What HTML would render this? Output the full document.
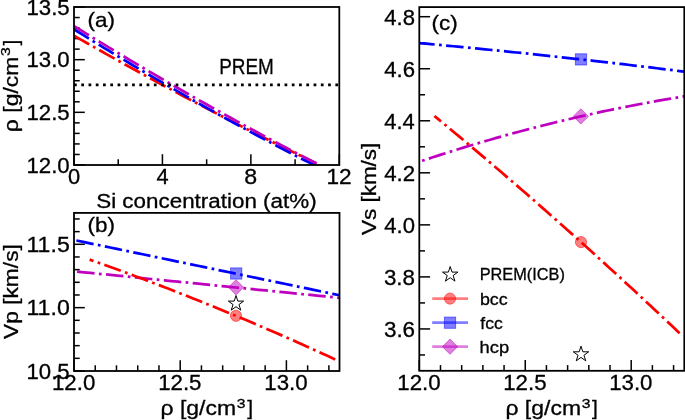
<!DOCTYPE html>
<html><head><meta charset="utf-8"><style>html,body{margin:0;padding:0;background:#fff;overflow:hidden}svg{display:block;will-change:transform}text{stroke:#000;stroke-width:0.3px;paint-order:stroke}</style></head>
<body><svg width="685" height="420" viewBox="0 0 685 420" font-family="Liberation Sans, sans-serif">
<rect width="685" height="420" fill="#fff"/>
<defs>
<clipPath id="ca"><rect x="74" y="7" width="265.3" height="158"/></clipPath>
<clipPath id="cb"><rect x="74" y="212.9" width="265.5" height="158.1"/></clipPath>
<clipPath id="cc"><rect x="419.3" y="7.1" width="264.99999999999994" height="363.7"/></clipPath>
</defs>
<g stroke="#000" stroke-width="1.5"><line x1="74" y1="165" x2="74" y2="154.2"/><line x1="162.43" y1="165" x2="162.43" y2="154.2"/><line x1="250.87" y1="165" x2="250.87" y2="154.2"/><line x1="339.3" y1="165" x2="339.3" y2="154.2"/><line x1="118.22" y1="165" x2="118.22" y2="159.3"/><line x1="206.65" y1="165" x2="206.65" y2="159.3"/><line x1="295.08" y1="165" x2="295.08" y2="159.3"/><line x1="74" y1="165" x2="84.8" y2="165"/><line x1="74" y1="112.33" x2="84.8" y2="112.33"/><line x1="74" y1="59.67" x2="84.8" y2="59.67"/><line x1="74" y1="7" x2="84.8" y2="7"/><line x1="74" y1="154.47" x2="79.7" y2="154.47"/><line x1="74" y1="143.93" x2="79.7" y2="143.93"/><line x1="74" y1="133.4" x2="79.7" y2="133.4"/><line x1="74" y1="122.87" x2="79.7" y2="122.87"/><line x1="74" y1="101.8" x2="79.7" y2="101.8"/><line x1="74" y1="91.27" x2="79.7" y2="91.27"/><line x1="74" y1="80.73" x2="79.7" y2="80.73"/><line x1="74" y1="70.2" x2="79.7" y2="70.2"/><line x1="74" y1="49.13" x2="79.7" y2="49.13"/><line x1="74" y1="38.6" x2="79.7" y2="38.6"/><line x1="74" y1="28.07" x2="79.7" y2="28.07"/><line x1="74" y1="17.53" x2="79.7" y2="17.53"/><line x1="74" y1="371" x2="74" y2="360.2"/><line x1="180.2" y1="371" x2="180.2" y2="360.2"/><line x1="286.4" y1="371" x2="286.4" y2="360.2"/><line x1="95.24" y1="371" x2="95.24" y2="365.3"/><line x1="116.48" y1="371" x2="116.48" y2="365.3"/><line x1="137.72" y1="371" x2="137.72" y2="365.3"/><line x1="158.96" y1="371" x2="158.96" y2="365.3"/><line x1="201.44" y1="371" x2="201.44" y2="365.3"/><line x1="222.68" y1="371" x2="222.68" y2="365.3"/><line x1="243.92" y1="371" x2="243.92" y2="365.3"/><line x1="265.16" y1="371" x2="265.16" y2="365.3"/><line x1="307.64" y1="371" x2="307.64" y2="365.3"/><line x1="328.88" y1="371" x2="328.88" y2="365.3"/><line x1="74" y1="371" x2="84.8" y2="371"/><line x1="74" y1="307.65" x2="84.8" y2="307.65"/><line x1="74" y1="244.3" x2="84.8" y2="244.3"/><line x1="74" y1="358.33" x2="79.7" y2="358.33"/><line x1="74" y1="345.66" x2="79.7" y2="345.66"/><line x1="74" y1="332.99" x2="79.7" y2="332.99"/><line x1="74" y1="320.32" x2="79.7" y2="320.32"/><line x1="74" y1="294.98" x2="79.7" y2="294.98"/><line x1="74" y1="282.31" x2="79.7" y2="282.31"/><line x1="74" y1="269.64" x2="79.7" y2="269.64"/><line x1="74" y1="256.97" x2="79.7" y2="256.97"/><line x1="74" y1="231.63" x2="79.7" y2="231.63"/><line x1="74" y1="218.96" x2="79.7" y2="218.96"/><line x1="419.3" y1="370.8" x2="419.3" y2="360"/><line x1="525.25" y1="370.8" x2="525.25" y2="360"/><line x1="631.2" y1="370.8" x2="631.2" y2="360"/><line x1="440.49" y1="370.8" x2="440.49" y2="365.1"/><line x1="461.68" y1="370.8" x2="461.68" y2="365.1"/><line x1="482.87" y1="370.8" x2="482.87" y2="365.1"/><line x1="504.06" y1="370.8" x2="504.06" y2="365.1"/><line x1="546.44" y1="370.8" x2="546.44" y2="365.1"/><line x1="567.63" y1="370.8" x2="567.63" y2="365.1"/><line x1="588.82" y1="370.8" x2="588.82" y2="365.1"/><line x1="610.01" y1="370.8" x2="610.01" y2="365.1"/><line x1="652.39" y1="370.8" x2="652.39" y2="365.1"/><line x1="673.58" y1="370.8" x2="673.58" y2="365.1"/><line x1="419.3" y1="328.94" x2="430.1" y2="328.94"/><line x1="419.3" y1="276.9" x2="430.1" y2="276.9"/><line x1="419.3" y1="224.86" x2="430.1" y2="224.86"/><line x1="419.3" y1="172.82" x2="430.1" y2="172.82"/><line x1="419.3" y1="120.78" x2="430.1" y2="120.78"/><line x1="419.3" y1="68.74" x2="430.1" y2="68.74"/><line x1="419.3" y1="16.7" x2="430.1" y2="16.7"/><line x1="419.3" y1="354.96" x2="425" y2="354.96"/><line x1="419.3" y1="302.92" x2="425" y2="302.92"/><line x1="419.3" y1="250.88" x2="425" y2="250.88"/><line x1="419.3" y1="198.84" x2="425" y2="198.84"/><line x1="419.3" y1="146.8" x2="425" y2="146.8"/><line x1="419.3" y1="94.76" x2="425" y2="94.76"/><line x1="419.3" y1="42.72" x2="425" y2="42.72"/></g>
<path d="M74,35.71 L78.11,38.07 L82.22,40.41 L86.33,42.75 L90.44,45.08 L94.55,47.4 L98.66,49.72 L102.77,52.03 L106.88,54.34 L110.99,56.64 L115.1,58.93 L119.21,61.22 L123.32,63.5 L127.43,65.77 L131.54,68.04 L135.65,70.3 L139.76,72.56 L143.87,74.8 L147.98,77.05 L152.09,79.28 L156.2,81.51 L160.31,83.73 L164.42,85.95 L168.53,88.16 L172.64,90.36 L176.75,92.56 L180.86,94.75 L184.97,96.94 L189.08,99.11 L193.19,101.29 L197.31,103.45 L201.42,105.61 L205.53,107.76 L209.64,109.91 L213.75,112.05 L217.86,114.18 L221.97,116.31 L226.08,118.43 L230.19,120.55 L234.3,122.65 L238.41,124.76 L242.52,126.85 L246.63,128.94 L250.74,131.02 L254.85,133.1 L258.96,135.17 L263.07,137.23 L267.18,139.29 L271.29,141.34 L275.4,143.38 L279.51,145.42 L283.62,147.45 L287.73,149.48 L291.84,151.5 L295.95,153.51 L300.06,155.52 L304.17,157.52 L308.28,159.51 L312.39,161.5 L316.5,163.48" fill="none" stroke="#ff0000" stroke-width="2.74" stroke-dasharray="17.54 4.38 2.74 4.38" stroke-dashoffset="0" clip-path="url(#ca)"/>
<path d="M74,29.31 L78.34,32.01 L82.68,34.71 L87.02,37.39 L91.36,40.07 L95.69,42.74 L100.03,45.4 L104.37,48.05 L108.71,50.69 L113.05,53.32 L117.39,55.94 L121.73,58.55 L126.07,61.15 L130.41,63.75 L134.75,66.33 L139.08,68.91 L143.42,71.47 L147.76,74.03 L152.1,76.58 L156.44,79.12 L160.78,81.65 L165.12,84.17 L169.46,86.68 L173.8,89.18 L178.14,91.67 L182.47,94.15 L186.81,96.63 L191.15,99.09 L195.49,101.55 L199.83,103.99 L204.17,106.43 L208.51,108.85 L212.85,111.27 L217.19,113.68 L221.53,116.08 L225.86,118.47 L230.2,120.85 L234.54,123.23 L238.88,125.59 L243.22,127.94 L247.56,130.29 L251.9,132.62 L256.24,134.95 L260.58,137.26 L264.92,139.57 L269.25,141.87 L273.59,144.16 L277.93,146.44 L282.27,148.71 L286.61,150.97 L290.95,153.22 L295.29,155.46 L299.63,157.69 L303.97,159.92 L308.31,162.13 L312.64,164.34 L316.98,166.54 L321.32,168.72 L325.66,170.9 L330,173.07" fill="none" stroke="#0000ff" stroke-width="2.74" stroke-dasharray="17.54 4.38 2.74 4.38" stroke-dashoffset="0" clip-path="url(#ca)"/>
<path d="M74,26.05 L78.34,28.74 L82.68,31.42 L87.02,34.09 L91.36,36.75 L95.69,39.4 L100.03,42.05 L104.37,44.69 L108.71,47.32 L113.05,49.94 L117.39,52.55 L121.73,55.16 L126.07,57.75 L130.41,60.34 L134.75,62.92 L139.08,65.49 L143.42,68.05 L147.76,70.61 L152.1,73.16 L156.44,75.69 L160.78,78.22 L165.12,80.74 L169.46,83.26 L173.8,85.76 L178.14,88.26 L182.47,90.75 L186.81,93.23 L191.15,95.7 L195.49,98.16 L199.83,100.62 L204.17,103.06 L208.51,105.5 L212.85,107.93 L217.19,110.35 L221.53,112.77 L225.86,115.17 L230.2,117.57 L234.54,119.96 L238.88,122.34 L243.22,124.71 L247.56,127.07 L251.9,129.43 L256.24,131.78 L260.58,134.12 L264.92,136.45 L269.25,138.77 L273.59,141.08 L277.93,143.39 L282.27,145.68 L286.61,147.97 L290.95,150.25 L295.29,152.53 L299.63,154.79 L303.97,157.04 L308.31,159.29 L312.64,161.53 L316.98,163.76 L321.32,165.98 L325.66,168.2 L330,170.4" fill="none" stroke="#bf00bf" stroke-width="2.74" stroke-dasharray="17.54 4.38 2.74 4.38" stroke-dashoffset="0" clip-path="url(#ca)"/>
<path d="M74,84.8 L339.3,84.8" stroke="#000" stroke-width="2.74" stroke-dasharray="2.74 4.52" clip-path="url(#ca)"/>
<rect x="74" y="7" width="265.3" height="158" fill="none" stroke="#000" stroke-width="1.8" stroke-linejoin="miter"/>
<path d="M76.4,240.5 L83.15,241.9 L89.89,243.31 L96.64,244.71 L103.38,246.11 L110.13,247.52 L116.88,248.92 L123.62,250.32 L130.37,251.73 L137.12,253.13 L143.86,254.53 L150.61,255.94 L157.35,257.34 L164.1,258.74 L170.85,260.14 L177.59,261.55 L184.34,262.95 L191.08,264.35 L197.83,265.76 L204.58,267.16 L211.32,268.56 L218.07,269.97 L224.82,271.37 L231.56,272.77 L238.31,274.18 L245.05,275.58 L251.8,276.98 L258.55,278.39 L265.29,279.79 L272.04,281.19 L278.78,282.6 L285.53,284 L292.28,285.4 L299.02,286.81 L305.77,288.21 L312.52,289.61 L319.26,291.02 L326.01,292.42 L332.75,293.82 L339.5,295.22" fill="none" stroke="#0000ff" stroke-width="2.74" stroke-dasharray="17.54 4.38 2.74 4.38" stroke-dashoffset="0" clip-path="url(#cb)"/>
<path d="M77.1,271.6 L83.83,272.27 L90.56,272.95 L97.28,273.62 L104.01,274.29 L110.74,274.96 L117.47,275.64 L124.2,276.31 L130.93,276.98 L137.65,277.66 L144.38,278.33 L151.11,279 L157.84,279.67 L164.57,280.35 L171.29,281.02 L178.02,281.69 L184.75,282.37 L191.48,283.04 L198.21,283.71 L204.94,284.38 L211.66,285.06 L218.39,285.73 L225.12,286.4 L231.85,287.07 L238.58,287.75 L245.31,288.42 L252.03,289.09 L258.76,289.77 L265.49,290.44 L272.22,291.11 L278.95,291.78 L285.67,292.46 L292.4,293.13 L299.13,293.8 L305.86,294.48 L312.59,295.15 L319.32,295.82 L326.04,296.49 L332.77,297.17 L339.5,297.84" fill="none" stroke="#bf00bf" stroke-width="2.74" stroke-dasharray="17.54 4.38 2.74 4.38" stroke-dashoffset="0" clip-path="url(#cb)"/>
<path d="M89.6,259.59 L93.76,261.06 L97.93,262.54 L102.09,264.03 L106.25,265.52 L110.41,267.02 L114.58,268.53 L118.74,270.05 L122.9,271.57 L127.06,273.11 L131.23,274.65 L135.39,276.19 L139.55,277.75 L143.72,279.31 L147.88,280.88 L152.04,282.46 L156.2,284.04 L160.37,285.64 L164.53,287.24 L168.69,288.84 L172.85,290.46 L177.02,292.08 L181.18,293.71 L185.34,295.35 L189.51,297 L193.67,298.65 L197.83,300.31 L201.99,301.98 L206.16,303.66 L210.32,305.34 L214.48,307.03 L218.64,308.73 L222.81,310.44 L226.97,312.15 L231.13,313.88 L235.29,315.61 L239.46,317.34 L243.62,319.09 L247.78,320.84 L251.95,322.6 L256.11,324.37 L260.27,326.14 L264.43,327.93 L268.6,329.72 L272.76,331.51 L276.92,333.32 L281.08,335.13 L285.25,336.95 L289.41,338.78 L293.57,340.62 L297.74,342.46 L301.9,344.31 L306.06,346.17 L310.22,348.04 L314.39,349.91 L318.55,351.79 L322.71,353.68 L326.87,355.58 L331.04,357.48 L335.2,359.39" fill="none" stroke="#ff0000" stroke-width="2.74" stroke-dasharray="17.54 4.38 2.74 4.38" stroke-dashoffset="13.4" clip-path="url(#cb)"/>
<path d="M417.2,42.91 L421.72,43.32 L426.24,43.73 L430.77,44.14 L435.29,44.56 L439.81,44.97 L444.33,45.39 L448.85,45.82 L453.38,46.24 L457.9,46.67 L462.42,47.1 L466.94,47.54 L471.46,47.97 L475.99,48.41 L480.51,48.86 L485.03,49.3 L489.55,49.75 L494.07,50.2 L498.6,50.65 L503.12,51.11 L507.64,51.57 L512.16,52.03 L516.68,52.5 L521.21,52.96 L525.73,53.43 L530.25,53.91 L534.77,54.38 L539.29,54.86 L543.82,55.34 L548.34,55.82 L552.86,56.31 L557.38,56.8 L561.91,57.29 L566.43,57.79 L570.95,58.28 L575.47,58.78 L579.99,59.29 L584.52,59.79 L589.04,60.3 L593.56,60.81 L598.08,61.33 L602.6,61.84 L607.13,62.36 L611.65,62.89 L616.17,63.41 L620.69,63.94 L625.21,64.47 L629.74,65 L634.26,65.54 L638.78,66.08 L643.3,66.62 L647.82,67.17 L652.35,67.71 L656.87,68.26 L661.39,68.82 L665.91,69.37 L670.43,69.93 L674.96,70.49 L679.48,71.05 L684,71.62" fill="none" stroke="#0000ff" stroke-width="2.74" stroke-dasharray="17.54 4.38 2.74 4.38" stroke-dashoffset="0" clip-path="url(#cc)"/>
<path d="M419.3,161.73 L423.79,160.24 L428.27,158.76 L432.76,157.3 L437.25,155.84 L441.73,154.41 L446.22,152.98 L450.71,151.57 L455.19,150.17 L459.68,148.78 L464.16,147.41 L468.65,146.05 L473.14,144.71 L477.62,143.38 L482.11,142.06 L486.6,140.75 L491.08,139.46 L495.57,138.18 L500.06,136.91 L504.54,135.66 L509.03,134.42 L513.52,133.19 L518,131.98 L522.49,130.78 L526.97,129.6 L531.46,128.42 L535.95,127.26 L540.43,126.12 L544.92,124.98 L549.41,123.86 L553.89,122.76 L558.38,121.66 L562.87,120.58 L567.35,119.52 L571.84,118.46 L576.33,117.42 L580.81,116.4 L585.3,115.38 L589.78,114.38 L594.27,113.4 L598.76,112.42 L603.24,111.46 L607.73,110.52 L612.22,109.58 L616.7,108.66 L621.19,107.75 L625.68,106.86 L630.16,105.98 L634.65,105.11 L639.14,104.26 L643.62,103.42 L648.11,102.59 L652.59,101.77 L657.08,100.97 L661.57,100.19 L666.05,99.41 L670.54,98.65 L675.03,97.9 L679.51,97.17 L684,96.45" fill="none" stroke="#bf00bf" stroke-width="2.74" stroke-dasharray="17.54 4.38 2.74 4.38" stroke-dashoffset="19" clip-path="url(#cc)"/>
<path d="M434.4,115.99 L438.56,119.41 L442.71,122.84 L446.87,126.28 L451.02,129.73 L455.18,133.19 L459.34,136.65 L463.49,140.13 L467.65,143.61 L471.8,147.11 L475.96,150.61 L480.12,154.12 L484.27,157.64 L488.43,161.17 L492.58,164.71 L496.74,168.26 L500.89,171.81 L505.05,175.38 L509.21,178.95 L513.36,182.53 L517.52,186.12 L521.67,189.73 L525.83,193.34 L529.99,196.95 L534.14,200.58 L538.3,204.22 L542.45,207.86 L546.61,211.52 L550.77,215.18 L554.92,218.85 L559.08,222.53 L563.23,226.22 L567.39,229.92 L571.55,233.63 L575.7,237.35 L579.86,241.07 L584.01,244.81 L588.17,248.55 L592.33,252.31 L596.48,256.07 L600.64,259.84 L604.79,263.62 L608.95,267.41 L613.11,271.2 L617.26,275.01 L621.42,278.83 L625.57,282.65 L629.73,286.48 L633.88,290.33 L638.04,294.18 L642.2,298.04 L646.35,301.91 L650.51,305.78 L654.66,309.67 L658.82,313.57 L662.98,317.47 L667.13,321.39 L671.29,325.31 L675.44,329.24 L679.6,333.18" fill="none" stroke="#ff0000" stroke-width="2.74" stroke-dasharray="17.54 4.38 2.74 4.38" stroke-dashoffset="8.9" clip-path="url(#cc)"/>
<rect x="230.6" y="267.9" width="11.2" height="11.2" fill="rgba(0,0,255,0.5)" stroke="rgba(0,0,255,0.5)" stroke-width="1"/>
<path d="M236,279.7 L243.6,287.3 L236,294.9 L228.4,287.3 Z" fill="rgba(191,0,191,0.5)" stroke="rgba(191,0,191,0.5)" stroke-width="1"/>
<path d="M236,295.5 L237.82,301.1 L243.7,301.1 L238.94,304.56 L240.76,310.15 L236,306.69 L231.24,310.15 L233.06,304.56 L228.3,301.1 L234.18,301.1 Z" fill="#fff" stroke="#000" stroke-width="1.0" stroke-linejoin="miter"/>
<circle cx="236" cy="315.8" r="5.6" fill="rgba(255,0,0,0.5)" stroke="rgba(255,0,0,0.5)" stroke-width="1"/>
<rect x="575.4" y="53.8" width="11.2" height="11.2" fill="rgba(0,0,255,0.5)" stroke="rgba(0,0,255,0.5)" stroke-width="1"/>
<path d="M580.8,108.8 L588.4,116.4 L580.8,124 L573.2,116.4 Z" fill="rgba(191,0,191,0.5)" stroke="rgba(191,0,191,0.5)" stroke-width="1"/>
<path d="M581,346.2 L582.82,351.8 L588.7,351.8 L583.94,355.26 L585.76,360.85 L581,357.39 L576.24,360.85 L578.06,355.26 L573.3,351.8 L579.18,351.8 Z" fill="#fff" stroke="#000" stroke-width="1.0" stroke-linejoin="miter"/>
<circle cx="581" cy="242.1" r="5.6" fill="rgba(255,0,0,0.5)" stroke="rgba(255,0,0,0.5)" stroke-width="1"/>
<path d="M450.2,266.5 L452.02,272.1 L457.9,272.1 L453.14,275.56 L454.96,281.15 L450.2,277.69 L445.44,281.15 L447.26,275.56 L442.5,272.1 L448.38,272.1 Z" fill="#fff" stroke="#000" stroke-width="1.0" stroke-linejoin="miter"/>
<line x1="432.2" y1="298.6" x2="468" y2="298.6" stroke="rgba(255,0,0,0.5)" stroke-width="2.74"/>
<circle cx="450" cy="298.6" r="5.6" fill="rgba(255,0,0,0.5)" stroke="rgba(255,0,0,0.5)" stroke-width="1"/>
<line x1="432.2" y1="322.7" x2="468" y2="322.7" stroke="rgba(0,0,255,0.5)" stroke-width="2.74"/>
<rect x="444.4" y="317.1" width="11.2" height="11.2" fill="rgba(0,0,255,0.5)" stroke="rgba(0,0,255,0.5)" stroke-width="1"/>
<line x1="432.2" y1="346.7" x2="468" y2="346.7" stroke="rgba(191,0,191,0.5)" stroke-width="2.74"/>
<path d="M450,339.1 L457.6,346.7 L450,354.3 L442.4,346.7 Z" fill="rgba(191,0,191,0.5)" stroke="rgba(191,0,191,0.5)" stroke-width="1"/>
<rect x="74" y="212.9" width="265.5" height="158.1" fill="none" stroke="#000" stroke-width="1.8" stroke-linejoin="miter"/>
<rect x="419.3" y="7.1" width="265" height="363.7" fill="none" stroke="#000" stroke-width="1.8" stroke-linejoin="miter"/>
<text transform="translate(87.55,26.7) scale(1.1227,1)" font-size="20.00">(a)</text>
<text transform="translate(87.55,232.2) scale(1.1227,1)" font-size="20.00">(b)</text>
<text transform="translate(431.55,29.7) scale(1.1244,1)" font-size="20.00">(c)</text>
<text transform="translate(219.19,74.2) scale(0.8949,1)" font-size="21.16" fill="#000">PREM</text>
<text transform="translate(26.43,172.8) scale(1.0491,1)" font-size="21.20">12.0</text>
<text transform="translate(26.43,120.13) scale(1.0491,1)" font-size="21.20">12.5</text>
<text transform="translate(26.43,67.47) scale(1.0491,1)" font-size="21.20">13.0</text>
<text transform="translate(26.43,14.8) scale(1.0491,1)" font-size="21.20">13.5</text>
<text transform="translate(26.54,378.8) scale(1.0465,1)" font-size="21.20">10.5</text>
<text transform="translate(26.46,315.45) scale(1.0912,1)" font-size="21.20">11.0</text>
<text transform="translate(26.46,252.1) scale(1.0912,1)" font-size="21.20">11.5</text>
<text transform="translate(383.9,336.74) scale(1.0591,1)" font-size="21.20">3.6</text>
<text transform="translate(383.91,284.7) scale(1.0550,1)" font-size="21.20">3.8</text>
<text transform="translate(384.25,232.66) scale(1.0431,1)" font-size="21.20">4.0</text>
<text transform="translate(384.24,180.62) scale(1.0510,1)" font-size="21.20">4.2</text>
<text transform="translate(384.25,128.58) scale(1.0353,1)" font-size="21.20">4.4</text>
<text transform="translate(384.25,76.54) scale(1.0470,1)" font-size="21.20">4.6</text>
<text transform="translate(384.25,24.5) scale(1.0431,1)" font-size="21.20">4.8</text>
<text transform="translate(67.92,184.4) scale(1.0328,1)" font-size="21.20">0</text>
<text transform="translate(156.44,184.4) scale(1.0283,1)" font-size="21.20">4</text>
<text transform="translate(244.37,184.4) scale(1.0939,1)" font-size="21.20">8</text>
<text transform="translate(326.45,184.4) scale(1.0679,1)" font-size="21.20">12</text>
<text transform="translate(51.93,389.6) scale(1.0517,1)" font-size="21.20">12.0</text>
<text transform="translate(397.23,389.6) scale(1.0517,1)" font-size="21.20">12.0</text>
<text transform="translate(158.13,389.6) scale(1.0517,1)" font-size="21.20">12.5</text>
<text transform="translate(503.18,389.6) scale(1.0517,1)" font-size="21.20">12.5</text>
<text transform="translate(264.33,389.6) scale(1.0517,1)" font-size="21.20">13.0</text>
<text transform="translate(609.13,389.6) scale(1.0517,1)" font-size="21.20">13.0</text>
<text transform="translate(96.19,207.6) scale(1.0993,1)" font-size="20.40">Si concentration (at%)</text>
<text transform="translate(479.69,280.4) scale(0.9611,1)" font-size="17.00">PREM(ICB)</text>
<text transform="translate(479.94,304.6) scale(1.0500,1)" font-size="17.00">bcc</text>
<text transform="translate(480.34,328.8) scale(1.0342,1)" font-size="17.00">fcc</text>
<text transform="translate(479.62,352.5) scale(1.0784,1)" font-size="17.00">hcp</text>
<g><text transform="translate(160.51,415.4) scale(1.1262,1)" font-size="20.40">ρ [g/cm</text><text transform="translate(236.77,407.67) scale(1.2421,1)" font-size="12.68">3</text><text transform="translate(247.19,415.4) scale(1.0307,1)" font-size="20.40">]</text></g>
<g transform="translate(344.9,0)"><text transform="translate(160.51,415.4) scale(1.1262,1)" font-size="20.40">ρ [g/cm</text><text transform="translate(236.77,407.67) scale(1.2421,1)" font-size="12.68">3</text><text transform="translate(247.19,415.4) scale(1.0307,1)" font-size="20.40">]</text></g>
<g transform="translate(17.9,130.7) rotate(-90) translate(-162,-415.4)"><text transform="translate(160.51,415.4) scale(1.1262,1)" font-size="20.40">ρ [g/cm</text><text transform="translate(236.77,407.67) scale(1.2421,1)" font-size="12.68">3</text><text transform="translate(247.19,415.4) scale(1.0307,1)" font-size="20.40">]</text></g>
<text transform="translate(17.8,339.01) rotate(-90) scale(1.1158,1)" font-size="20.40">Vp [km/s]</text>
<text transform="translate(375.9,235.11) rotate(-90) scale(1.1031,1)" font-size="20.40">Vs [km/s]</text>
</svg></body></html>
